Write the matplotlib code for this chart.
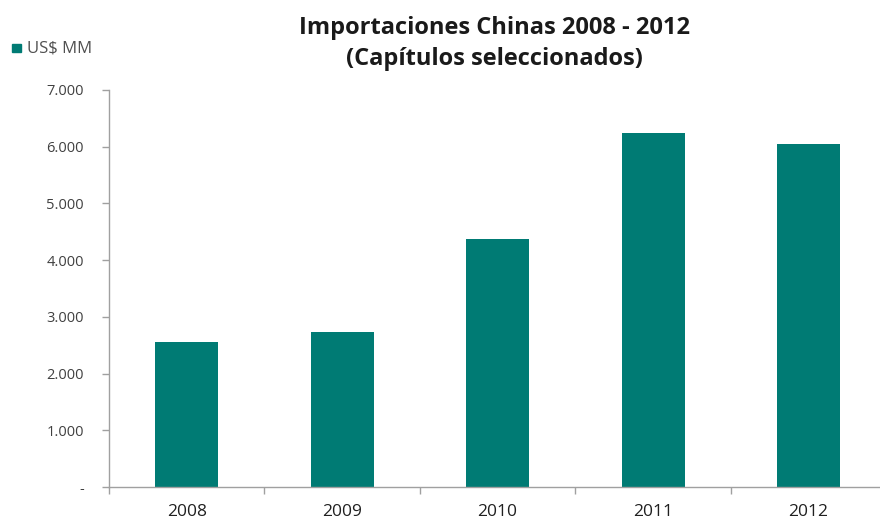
import matplotlib
matplotlib.use("Agg")
import matplotlib.pyplot as plt
import numpy as np

years = ["2008", "2009", "2010", "2011", "2012"]
values = [2560, 2730, 4370, 6240, 6050]
yticks = [0, 1000, 2000, 3000, 4000, 5000, 6000, 7000]
ytick_labels = ["-", "1.000", "2.000", "3.000", "4.000", "5.000", "6.000", "7.000"]

plt.rcParams['font.family'] = ['Open Sans', 'DejaVu Sans']

fig = plt.figure(figsize=(8.8, 5.21), dpi=100)
ax = fig.add_axes([109/880, 34/521, 771/880, 397/521])

teal = "#007B74"
x = np.arange(len(years))
ax.bar(x, values, width=0.405, color=teal, zorder=2)

ax.set_xlim(-0.5, 4.46)
ax.set_ylim(0, 7000)
ax.set_yticks(yticks)
ax.set_yticklabels(ytick_labels, fontsize=10.5, color="#404040")
ax.set_xticks(x)
ax.set_xticklabels(years, fontsize=12.5, color="#202020")
ax.set_xticks(np.arange(-0.5, 4.0, 1.0), minor=True)
ax.tick_params(axis='x', which='major', length=0, pad=12)
ax.tick_params(axis='x', which='minor', length=5, color="#a0a0a0", width=1)
ax.tick_params(axis='y', length=5, color="#a0a0a0", width=1, pad=13)

for s in ["top", "right"]:
    ax.spines[s].set_visible(False)
for s in ["left", "bottom"]:
    ax.spines[s].set_color("#a0a0a0")
    ax.spines[s].set_linewidth(1)

fig.text(494/880, 1 - 28/521, "Importaciones Chinas 2008 - 2012", ha="center", va="center",
         fontsize=17, fontweight="bold", color="#1a1a1a")
fig.text(494/880, 1 - 59/521, "(Capítulos seleccionados)", ha="center", va="center",
         fontsize=17, fontweight="bold", color="#1a1a1a")

# legend
fig.patches.append(plt.Rectangle((12/880, 1 - 52/521), 9/880, 8/521, transform=fig.transFigure,
                                 color=teal, figure=fig))
fig.text(27/880, 1 - 48/521, "US$ MM", ha="left", va="center", fontsize=12, color="#505050")

fig.savefig("out.png", dpi=100)
